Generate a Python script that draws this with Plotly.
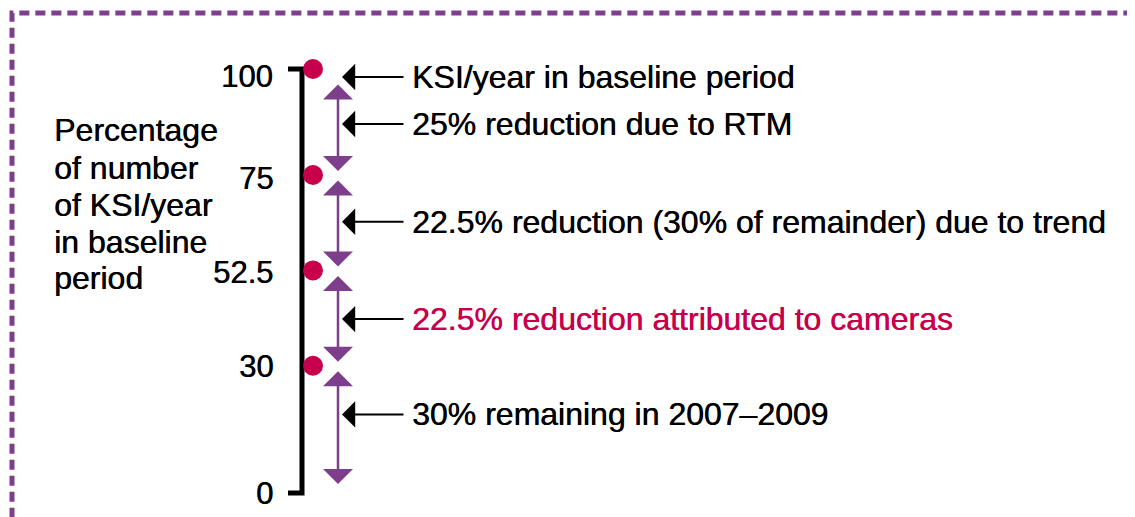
import plotly.graph_objects as go

# ---------------- data ----------------
levels = [100, 75, 52.5, 30, 0]
tick_text = ["100", "75", "52.5", "30", "0"]
point_levels = [100, 75, 52.5, 30]
segment_from = [100, 75, 52.5, 30]
segment_to = [75, 52.5, 30, 0]
descriptions = [
    "KSI/year in baseline period",
    "25% reduction due to RTM",
    "22.5% reduction (30% of remainder) due to trend",
    "22.5% reduction attributed to cameras",
    "30% remaining in 2007\u20132009",
]
ylabel_lines = ["Percentage", "of number", "of KSI/year", "in baseline", "period"]

# ---------------- style / layout ----------------
PURPLE = "#7d3f8c"
CRIMSON = "#c8004b"
BLACK = "#000000"
FONT = "Liberation Sans, Arial, Helvetica, sans-serif"
desc_colors = [BLACK, BLACK, BLACK, CRIMSON, BLACK]

W, H = 1135, 517
OFF = 8  # page body margin offset
Y0_PX, Y100_PX = 493, 69
ppu = (Y0_PX - Y100_PX) / 100.0
ymin = -(H - (Y0_PX - OFF)) / ppu
ymax = ymin + H / ppu


def v_of_px(ypx):
    return ymin + (H - (ypx - OFF)) / ppu


def tfont(size, color):
    return dict(family=FONT, size=size, color=color,
                shadow=f"0.5px 0px 0px {color}")


AXIS_X, TICK_X0 = 302, 288
DOT_X = 313
ARROW_X = 338
LABEL_RIGHT_X = 275
BLACK_TIP_X, BLACK_TAIL_X = 342, 405
TEXT_X = 410
FS_TICK = 31
FS_TEXT = 32

tick_shift_px = [7, 3, 2, 1, 0]
desc_shift_px = [8, 2, -1, 1, -15]
seg_pad_px_start = [14, 4, 4, 4]
seg_pad_px_end = [4, 4, 4, 9]

fig = go.Figure()

# axis bracket
fig.add_trace(go.Scatter(
    x=[TICK_X0, AXIS_X, AXIS_X, TICK_X0],
    y=[levels[-1], levels[-1], levels[0], levels[0]],
    mode="lines", line=dict(color=BLACK, width=5),
    hoverinfo="skip", cliponaxis=False,
))

# points
fig.add_trace(go.Scatter(
    x=[DOT_X] * len(point_levels), y=point_levels,
    mode="markers", marker=dict(size=20, color=CRIMSON),
    hoverinfo="skip", cliponaxis=False,
))

annotations = []

# tick labels
for lv, tt, sh in zip(levels, tick_text, tick_shift_px):
    annotations.append(dict(
        x=LABEL_RIGHT_X, y=lv - sh / ppu, xref="x", yref="y",
        text=tt, showarrow=False, xanchor="right", yanchor="middle",
        font=tfont(FS_TICK, BLACK),
    ))

# purple double-headed arrows
for a, b, ps, pe in zip(segment_from, segment_to, seg_pad_px_start, seg_pad_px_end):
    annotations.append(dict(
        x=ARROW_X, y=b + pe / ppu, ax=ARROW_X, ay=a - ps / ppu,
        xref="x", yref="y", axref="x", ayref="y",
        text="", showarrow=True, arrowside="end+start",
        arrowhead=1, startarrowhead=1,
        arrowsize=2.0, startarrowsize=2.0, arrowwidth=2.5,
        arrowcolor=PURPLE, standoff=0, startstandoff=0,
    ))

# description anchors: baseline level then segment midpoints
anchors = [levels[0]] + [(a + b) / 2 for a, b in zip(segment_from, segment_to)]
for anc, sh, txt, col in zip(anchors, desc_shift_px, descriptions, desc_colors):
    yv = anc - sh / ppu
    annotations.append(dict(
        x=BLACK_TIP_X, y=yv, ax=BLACK_TAIL_X, ay=yv,
        xref="x", yref="y", axref="x", ayref="y",
        text="", showarrow=True, arrowhead=1, arrowsize=2.2, arrowwidth=2,
        arrowcolor=BLACK, standoff=0,
    ))
    annotations.append(dict(
        x=TEXT_X, y=yv, xref="x", yref="y", text=txt, showarrow=False,
        xanchor="left", yanchor="middle",
        font=tfont(FS_TEXT, col),
    ))

# y-axis title lines
ylabel_px = [130, 168, 205, 242, 278]
for line, ypx in zip(ylabel_lines, ylabel_px):
    annotations.append(dict(
        x=52, y=v_of_px(ypx), xref="x", yref="y", text=line, showarrow=False,
        xanchor="left", yanchor="middle",
        font=tfont(FS_TEXT, BLACK),
    ))

fig.update_layout(
    width=W, height=H,
    margin=dict(l=0, r=0, t=0, b=0),
    paper_bgcolor="white", plot_bgcolor="white",
    showlegend=False,
    xaxis=dict(range=[OFF, W + OFF], visible=False, fixedrange=True),
    yaxis=dict(range=[ymin, ymax], visible=False, fixedrange=True),
    annotations=annotations,
    shapes=[dict(
        type="rect", xref="paper", yref="paper",
        x0=(12 - OFF) / W, x1=1.05, y0=-0.05, y1=1 - (13 - OFF) / H,
        line=dict(color=PURPLE, width=5, dash="10px,6px"),
        fillcolor="rgba(0,0,0,0)", layer="above",
    )],
)

fig.write_html("out.html")
